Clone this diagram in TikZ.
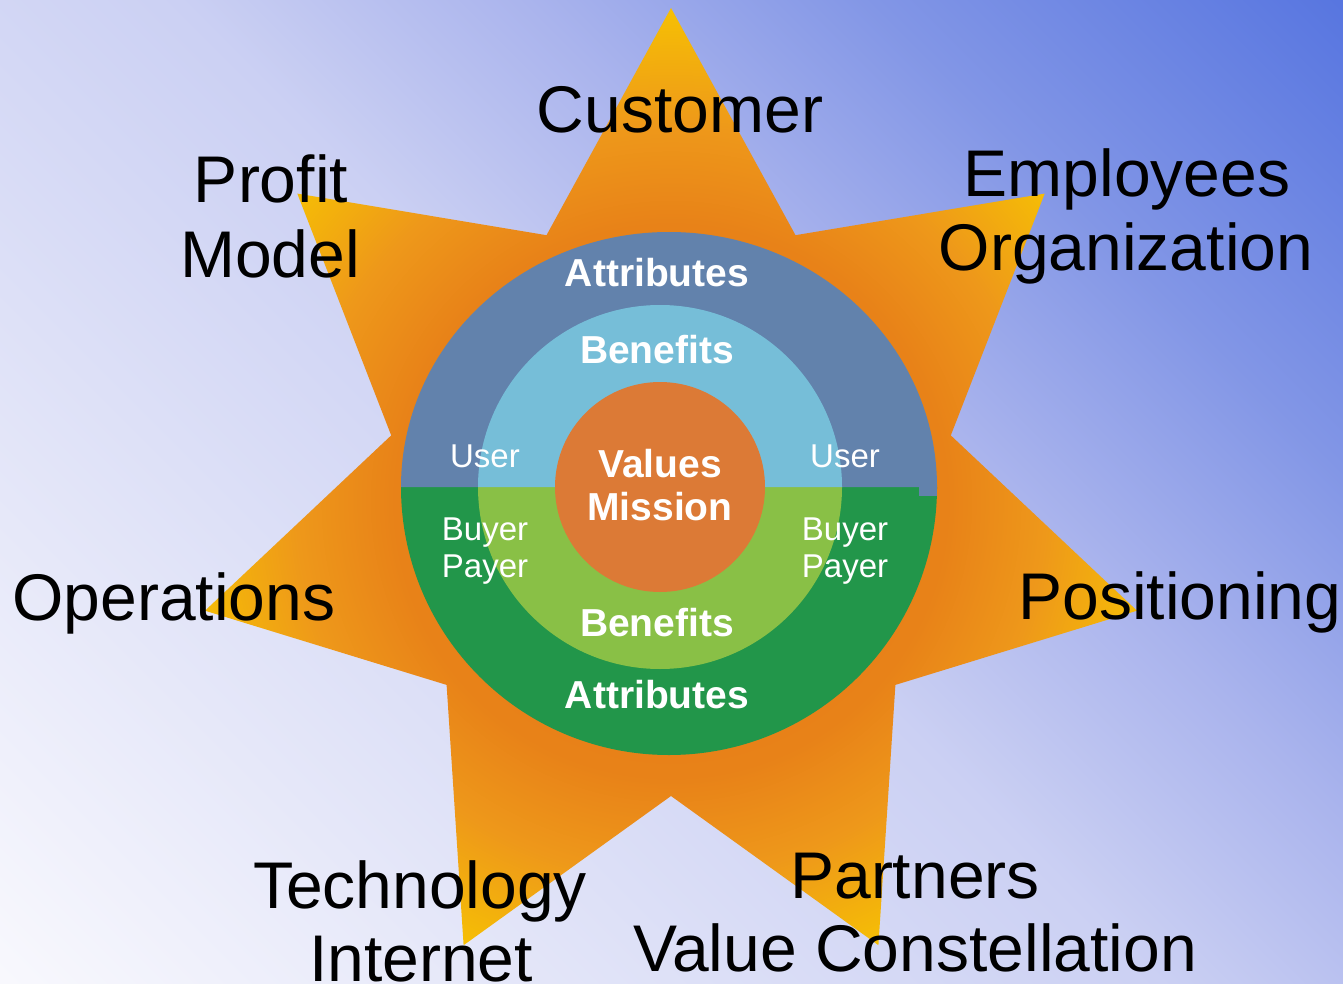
\documentclass[tikz,border=0pt]{standalone}
\usepackage{fontspec}
\setmainfont{Liberation Sans}

% background wash, star glow and ring colours
\definecolor{bgA}{RGB}{248,248,253}
\definecolor{bgB}{RGB}{203,208,243}
\definecolor{bgC}{RGB}{170,180,237}
\definecolor{bgD}{RGB}{130,150,230}
\definecolor{bgE}{RGB}{88,118,224}
\definecolor{starA}{RGB}{228,120,22}
\definecolor{starB}{RGB}{232,130,24}
\definecolor{starC}{RGB}{238,152,26}
\definecolor{starD}{RGB}{246,192,4}
\definecolor{ringblue}{RGB}{98,130,172}
\definecolor{ringsky}{RGB}{118,190,216}
\definecolor{ringgreen}{RGB}{34,150,74}
\definecolor{ringlime}{RGB}{137,192,70}
\definecolor{corecol}{RGB}{220,122,54}

\pgfdeclareverticalshading{skyfade}{100bp}{color(0bp)=(bgA); color(14.64bp)=(bgA); color(50bp)=(bgB); color(60.6bp)=(bgC); color(71.2bp)=(bgD); color(85.36bp)=(bgE); color(100bp)=(bgE)}
\pgfdeclareradialshading{starglow}{\pgfpoint{0bp}{0bp}}{color(0bp)=(starA); color(14bp)=(starB); color(19bp)=(starC); color(25bp)=(starD); color(50bp)=(starD)}

\begin{document}
\begin{tikzpicture}[x=1pt,y=-1pt,
  bigtxt/.style={font=\fontsize{66}{73}\selectfont, anchor=base, inner sep=0pt},
  boldtxt/.style={font=\fontsize{39}{44}\selectfont\bfseries, text=white, anchor=base, inner sep=0pt},
  roletxt/.style={font=\fontsize{33}{36}\selectfont, text=white, anchor=base, inner sep=0pt}]
\useasboundingbox (0,0) rectangle (1343,984);

% diagonal background wash
\shade[shading=skyfade, shading angle=-45] (0,0) rectangle (1343,984);

% seven-pointed star with a radial glow
\begin{scope}
  \clip (671,8) -- (795.5,235.2) -- (1044.7,193.6) -- (950.8,435.4) -- (1137,610.7)
    -- (895.4,684.9) -- (878.4,945.2) -- (671,796) -- (463.6,945.2) -- (446.6,684.9)
    -- (205,610.7) -- (391.2,435.4) -- (297.3,193.6) -- (546.5,235.2) -- cycle;
  \shade[shading=starglow] (671,501) circle[radius=493];
\end{scope}

% outer ring: attributes (user half on top, buyer half below)
\fill[ringgreen] (401,487) arc[start angle=180, end angle=0, radius=268] -- cycle;
\fill[ringblue] (401,487) arc[start angle=180, end angle=360, x radius=268, y radius=255] -- cycle;
\fill[ringblue] (919,487) rectangle (937,496);
% middle ring: benefits
\fill[ringlime] (478,487) arc[start angle=180, end angle=0, radius=182] -- cycle;
\fill[ringsky] (478,487) arc[start angle=180, end angle=360, radius=182] -- cycle;
% core
\fill[corecol] (660,487) circle[radius=105];

% labels around the star
\node[bigtxt] (customer) at (680,133) {Customer};
\node[bigtxt] (profit) at (271,203) {Profit};
\node[bigtxt] (model) at (270,277) {Model};
\node[bigtxt] (employees) at (1127,197) {Employees};
\node[bigtxt] (organization) at (1126,270) {Organization};
\node[bigtxt] (operations) at (174,620) {Operations};
\node[bigtxt] (positioning) at (1180,619) {Positioning};
\node[bigtxt] (technology) at (420,908) {Technology};
\node[bigtxt] (internet) at (421,981) {Internet};
\node[bigtxt] (partners) at (915,898) {Partners};
\node[bigtxt] (constellation) at (915,971) {Value Constellation};

% labels inside the rings
\node[boldtxt] (attrtop) at (657,287) {Attributes};
\node[boldtxt] (benetop) at (657,363) {Benefits};
\node[boldtxt] (values) at (660,477) {Values};
\node[boldtxt] (mission) at (660,520) {Mission};
\node[boldtxt] (benebot) at (657,636) {Benefits};
\node[boldtxt] (attrbot) at (657,708) {Attributes};
\node[roletxt] (userl) at (485,467) {User};
\node[roletxt] (userr) at (845,467) {User};
\node[roletxt] (buyerl) at (485,540) {Buyer};
\node[roletxt] (payerl) at (485,577) {Payer};
\node[roletxt] (buyerr) at (845,540) {Buyer};
\node[roletxt] (payerr) at (845,577) {Payer};
\end{tikzpicture}
\end{document}
